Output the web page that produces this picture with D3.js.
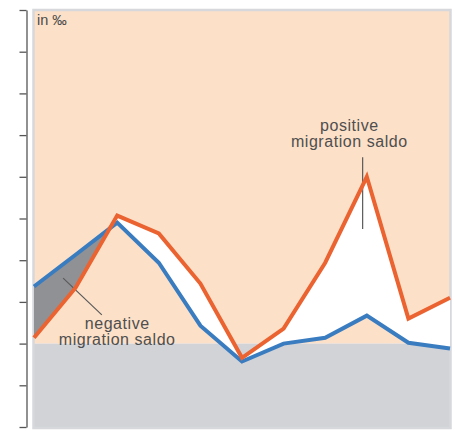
<!DOCTYPE html>
<html>
<head>
<meta charset="utf-8">
<script src="https://cdn.jsdelivr.net/npm/d3@7"></script>
<style>
  body { margin: 0; background: #fff; }
  text { font-family: "Liberation Sans", Arial, sans-serif; }
</style>
</head>
<body>
<div id="chart"></div>
<script>
    // periods 0..10, values in per mille
    const periods = [0, 1, 2, 3, 4, 5, 6, 7, 8, 9, 10];
    const immigration = [0.14, 1.34, 3.07, 2.64, 1.44, -0.34, 0.36, 1.94, 4.0, 0.6, 1.1];
    const emigration = [1.37, 2.13, 2.9, 1.94, 0.43, -0.43, 0.0, 0.14, 0.67, 0.02, -0.12];
    const yTicks = [-2, -1, 0, 1, 2, 3, 4, 5, 6, 7, 8];
    const unitLabel = "in ‰";
    const labels = [
        { lines: ["negative", "migration saldo"], x: 2, y: 0.35 },
        { lines: ["positive", "migration saldo"], x: 7.58, y: 5.1 }
    ];
    const leaders = [
        { x1: 0.7, y1: 1.57, x2: 1.63, y2: 0.69 },
        { x1: 7.9, y1: 4.47, x2: 7.9, y2: 2.75 }
    ];

    const W = 455, H = 431;
    const svg = d3.select("#chart").append("svg")
        .attr("width", W)
        .attr("height", H);

    const x = d3.scaleLinear().domain([0, 10]).range([34, 450]);
    const y = d3.scaleLinear().domain([-2, 8]).range([427, 10]);

    const data = periods.map((p, i) => ({ p, o: immigration[i], b: emigration[i] }));

    // background bands
    svg.append("rect")
        .attr("x", 33).attr("y", y(8))
        .attr("width", 418).attr("height", y(0) - y(8))
        .attr("fill", "#fce0c8");
    svg.append("rect")
        .attr("x", 33).attr("y", y(0))
        .attr("width", 418).attr("height", y(-2) - y(0) + 1)
        .attr("fill", "#d1d3d7");

    // frame
    svg.append("rect")
        .attr("x", 33.5).attr("y", 10)
        .attr("width", 417).attr("height", 418)
        .attr("fill", "none")
        .attr("stroke", "#d6d8db")
        .attr("stroke-width", 2.5);

    // clip paths for the areas between the two lines
    const defs = svg.append("defs");
    defs.append("clipPath").attr("id", "belowBlue")
        .append("path")
        .attr("d", d3.area().x(d => x(d.p)).y0(H).y1(d => y(d.b))(data));
    defs.append("clipPath").attr("id", "aboveBlue")
        .append("path")
        .attr("d", d3.area().x(d => x(d.p)).y0(0).y1(d => y(d.b))(data));

    // negative saldo: above orange & below blue
    svg.append("path")
        .attr("d", d3.area().x(d => x(d.p)).y0(0).y1(d => y(d.o))(data))
        .attr("clip-path", "url(#belowBlue)")
        .attr("fill", "#8f9195");

    // positive saldo: below orange & above blue
    svg.append("path")
        .attr("d", d3.area().x(d => x(d.p)).y0(H).y1(d => y(d.o))(data))
        .attr("clip-path", "url(#aboveBlue)")
        .attr("fill", "#ffffff");

    // leader lines
    svg.selectAll(".leader")
        .data(leaders)
        .enter()
        .append("line")
            .attr("class", "leader")
            .attr("x1", d => x(d.x1)).attr("y1", d => y(d.y1))
            .attr("x2", d => x(d.x2)).attr("y2", d => y(d.y2))
            .attr("stroke", "#5a5a5a")
            .attr("stroke-width", 1.2);

    const line = key => d3.line().x(d => x(d.p)).y(d => y(d[key]));

    svg.append("path")
        .attr("d", line("b")(data))
        .attr("fill", "none")
        .attr("stroke", "#3a7cc0")
        .attr("stroke-width", 4)
        .attr("stroke-linejoin", "miter");

    svg.append("path")
        .attr("d", line("o")(data))
        .attr("fill", "none")
        .attr("stroke", "#ea6330")
        .attr("stroke-width", 4)
        .attr("stroke-linejoin", "miter");

    // left axis, ticks only
    svg.append("g")
        .attr("transform", "translate(26.5,0)")
        .call(d3.axisLeft(y).tickValues(yTicks).tickSize(7).tickSizeOuter(0).tickFormat(""))
        .call(g => g.selectAll("line").attr("stroke", "#555").attr("stroke-width", 1.3))
        .call(g => g.select(".domain").attr("stroke", "#555").attr("stroke-width", 1.3));

    svg.append("text")
        .attr("x", 37).attr("y", 25)
        .attr("fill", "#4a4a4a")
        .style("font-size", "14.5px")
        .text(unitLabel);

    // annotation labels
    labels.forEach(l => {
        const t = svg.append("text")
            .attr("text-anchor", "middle")
            .attr("fill", "#4f4f4f")
            .style("font-size", "16px")
            .style("letter-spacing", "0.55px");
        l.lines.forEach((s, i) => {
            t.append("tspan")
                .attr("x", x(l.x))
                .attr("y", y(l.y) + i * 16)
                .text(s);
        });
    });
</script>
</body>
</html>
